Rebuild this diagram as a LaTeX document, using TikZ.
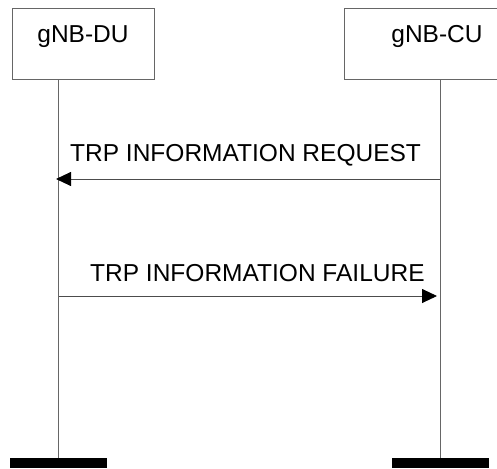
\documentclass[tikz,border=0pt]{standalone}
\usepackage{fontspec}
\setmainfont{Liberation Sans}
\usetikzlibrary{arrows.meta}

\tikzset{
  entity/.style={draw=black!60, line width=0.9pt, minimum width=#1,
    minimum height=71pt, inner sep=0pt},
  life/.style={draw=black!60, line width=1pt},
  bar/.style={fill=black, minimum width=97pt, minimum height=10pt, inner sep=0pt},
  msg/.style={draw=black!70, line width=0.9pt,
    -{Triangle[length=15pt,width=14pt,color=black]}},
  msgtext/.style={font=\fontsize{24.5}{27}\selectfont, inner sep=0pt}
}

\begin{document}
\begin{tikzpicture}[x=1pt,y=-1pt]
  \clip (0,0) rectangle (497,468);

  % Knoten oben.
  \node[entity=142pt, label={[name=dutext, anchor=base, yshift=-35pt,
      msgtext]north:gNB-DU}] (du) at (83,43.5) {};
  \node[entity=186pt, label={[name=cutext, anchor=base, yshift=-35pt,
      msgtext]north:gNB-CU}] (cu) at (437,43.5) {};

  % Balken unten und Lebenslinien.
  \node[bar] (dubar) at (58.5,463) {};
  \node[bar] (cubar) at (440,463) {};
  \draw[life] (dubar.north) -- (dubar.north |- du.south);
  \draw[life] (cubar.north) -- (cubar.north |- cu.south);

  % Nachrichten.
  \coordinate (reqcu) at (440,179);
  \coordinate (reqdu) at (56,179);
  \draw[msg] (reqcu) -- (reqdu);
  \node[msgtext, anchor=base west] (reqtext) at (70,161)
    {TRP INFORMATION REQUEST};

  \coordinate (faildu) at (59,296);
  \coordinate (failcu) at (437,296);
  \draw[msg] (faildu) -- (failcu);
  \node[msgtext, anchor=base west] (failtext) at (90,281)
    {TRP INFORMATION FAILURE};
\end{tikzpicture}
\end{document}
